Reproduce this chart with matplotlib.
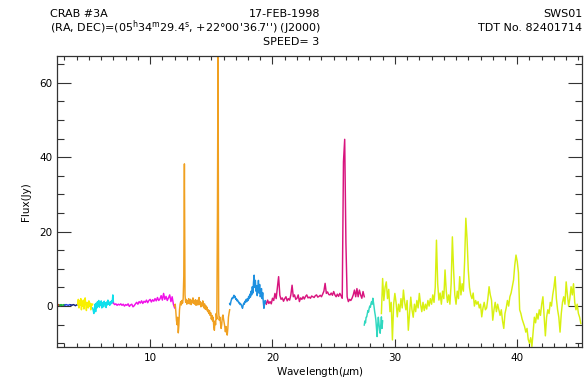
import numpy as np
import matplotlib
matplotlib.use("Agg")
import matplotlib.pyplot as plt
from matplotlib.ticker import MultipleLocator

# SWS01 spectrum of CRAB #3A, one list of flux values (Jy) per band
# wavelength range of each band in micron
band1a_range = (2.38, 2.60)
band1a = [0.3, 0.2, 0.4, 0.3, 0.2]
band1b_range = (2.60, 3.02)
band1b = [0.3, 0.1, 0.4, 0.2, 0.3, 0.2, 0.4, 0.3]
band1d_range = (3.02, 3.52)
band1d = [0.2, 0.4, 0.3, 0.2, 0.4, 0.3]
band1e_range = (3.52, 4.08)
band1e = [0.3, 0.2, 0.4, 0.3, 0.1, 0.3, 0.4]

band2a_range = (4.08, 5.30)
band2a = [0.5, 1.8, -0.5, 1.5, 0.2, 2.0, -1.0, 1.2, 0.0, 1.6, -0.8, 0.8, 2.2,
          0.3, -1.2, 1.0, 0.5, -0.5, 1.4, 0.0, 0.8, -1.0, 0.6, 0.2, 0.5]

band2b_range = (5.30, 7.00)
band2b = [-0.5, -1.2, -2.0, -1.0, 0.5, -1.5, 0.8, -0.5, 1.2, 0.0, 1.5, -0.3,
          0.8, 0.2, 1.4, -0.5, 0.6, 1.0, -0.2, 1.3, 0.4, 0.9, -0.4, 1.1, 0.3,
          1.6, 0.5, 1.0, 0.2, 1.2, 0.6, 1.4, 0.8, 3.0, 1.0]

band2c_range = (7.0, 12.0)
band2c = [0.8, 0.4, 0.6, 0.2, 0.5, 0.3, 0.6, 0.2, 0.5, 0.0,
          0.4, 0.2, 0.6, -0.1, 0.3, 0.5, -0.2, 0.1, 0.6, 1.0,
          0.5, 1.2, 0.8, 1.4, 0.7, 1.3, 1.0, 1.6, 0.9, 1.5,
          1.8, 1.1, 1.7, 1.3, 2.0, 1.4, 2.3, 1.5, 1.9, 2.8,
          1.6, 3.4, 1.8, 2.6, 1.5, 2.2, 3.0, 1.2, 2.5, 0.5, -0.5]

band3a_range = (12.0, 16.5)
band3a = [0.0, 0.5, -1.5, -3.8, -5.0, -3.0, -7.2, -5.0, -1.0, 0.5,
          1.2, 0.3, 1.5, 0.8, 2.0, 8.0, 38.2, 3.0, 1.0, 1.8,
          0.5, 1.5, 0.8, 2.0, 0.6, 1.2, 1.8, 0.4, 1.5, 0.9,
          2.2, 0.7, 1.3, 0.5, 1.7, 0.2, 1.0, 1.6, 0.3, 0.9,
          2.3, 0.4, 1.2, -0.2, 0.8, 0.0, 1.4, 0.2, -0.5, 0.6,
          -0.8, 0.1, -1.0, -0.3, -1.5, -1.0, -2.0, -1.2, -2.5, -1.8,
          -3.5, -2.5, -4.0, -3.0, -5.5, -6.5, -4.0, -5.0, -2.0, -3.5,
          25.0, 70.0, -1.5, -3.8, -3.0, -4.5, -6.0, -5.0, -3.0, -2.4,
          -3.5, -4.5, -5.5, -6.9, -5.5, -7.0, -7.8, -6.0, -3.0, -1.9, -1.0]

band3c_range = (16.5, 19.5)
band3c = [0.7, 0.3, 1.2, 1.8, 2.2, 2.0, 2.5, 2.9, 2.3, 2.6,
          1.8, 2.0, 1.4, 1.6, 1.2, 0.8, 1.0, 0.4, 0.6, 0.3,
          -0.2, -0.6, 0.2, 0.8, 0.5, 1.3, 1.0, 1.8, 1.2, 2.0,
          1.5, 2.6, 2.0, 3.2, 2.4, 4.0, 3.0, 5.2, 3.5, 6.5,
          8.3, 5.0, 6.9, 4.0, 5.5, 2.8, 4.3, 6.9, 3.5, 5.8,
          2.5, 3.4, 4.7, 2.0, 3.6, 1.0, -0.6, 0.5, 1.5, 0.8, 1.0]

band3d_range = (19.5, 27.5)
band3d = [0.5, 1.6, 0.7, 1.2, 0.6, 2.1, 1.5, 3.4, 2.0, 5.0,
          7.9, 2.9, 1.8, 2.2, 1.3, 2.0, 2.5, 1.4, 2.0, 1.6,
          3.0, 5.6, 2.5, 3.0, 1.8, 2.1, 3.0, 1.2, 2.2, 1.8,
          2.5, 1.9, 2.6, 3.0, 2.2, 2.4, 2.1, 2.7, 2.5, 2.3,
          2.8, 3.0, 2.4, 2.6, 2.9, 2.5, 3.2, 4.0, 6.1, 3.4,
          3.8, 3.1, 3.0, 3.5, 2.9, 3.9, 3.0, 2.5, 3.2, 2.6,
          3.4, 2.8, 2.1, 38.8, 44.8, 17.0, 2.5, 1.2, 1.8, 1.5,
          2.1, 3.0, 4.3, 2.5, 4.7, 2.5, 4.3, 3.0, 2.1, 3.9, 2.5]

band3e_range = (27.5, 29.0)
band3e = [-5.1, -4.0, -4.5, -3.0, -2.9, -2.0, -1.2, -1.6, -0.6, 0.0,
          -0.3, 0.7, 1.2, 0.5, 2.1, 1.0, -0.2, -1.5, -2.5, -3.8,
          -6.0, -8.2, -5.0, -3.0, -4.7, -6.5, -7.3, -5.0, -2.9, -6.0, -4.0]

band4_range = (28.9, 45.2)
band4 = [-2.0, 7.4, 1.5, 5.0, 6.5, 2.0, 4.5, -1.5, 1.0, -9.1,
         0.5, 3.4, 1.0, -2.9, 0.5, -1.5, 2.0, -0.5, 4.3, 1.0,
         -1.0, 1.5, -6.5, -2.0, 2.4, -1.0, -3.0, 0.5, -1.5, 1.5,
         -0.5, 3.4, 0.5, -1.5, 1.0, -1.2, 0.5, -0.8, 1.5, 0.0,
         2.0, 0.5, 3.0, 1.0, 5.0, 17.7, 6.0, 1.6, 3.5, 0.5,
         4.0, 2.0, 9.7, 4.0, 1.0, 3.0, 0.5, 6.0, 18.6, 9.7,
         3.0, 0.5, 4.0, 2.0, 7.9, 3.0, 6.0, 4.0, 12.0, 23.6,
         18.0, 9.7, 5.0, 3.0, 2.0, 3.5, 0.0, 1.5, 0.5, 1.2,
         -0.5, 0.5, -2.9, -0.5, 1.0, -1.0, -0.5, 2.0, 5.2, 3.0,
         1.6, -3.8, -1.0, 1.0, -1.5, 0.5, -1.0, -2.5, -1.0, -4.0,
         -6.0, -2.0, -0.5, 1.5, 0.0, 2.5, 3.5, 5.2, 7.0, 11.0,
         13.7, 12.0, 9.0, -1.0, -2.0, -3.5, -4.5, -5.5, -7.0, -6.0,
         -9.0, -10.0, -8.5, -10.9, -7.0, -3.0, -4.5, -2.0, -3.5, -1.0,
         -2.5, 0.5, 2.5, -3.0, -8.0, -3.0, -1.0, -2.0, 1.0, 0.0,
         3.0, 5.0, 7.9, 2.0, -1.0, -3.0, -7.0, -2.0, 1.0, 2.5,
         0.5, 6.5, 3.0, 0.0, 2.0, 5.2, 3.0, 6.0, 1.0, -1.0,
         0.5, -2.0, -3.0, -4.7]

bands = [
    (band1a_range, band1a, "#e02020"),
    (band1b_range, band1b, "#20b040"),
    (band1d_range, band1d, "#2040e0"),
    (band1e_range, band1e, "#102080"),
    (band2a_range, band2a, "#f8f000"),
    (band2b_range, band2b, "#10e0ec"),
    (band2c_range, band2c, "#f010e8"),
    (band3a_range, band3a, "#f0a020"),
    (band3c_range, band3c, "#1e90e0"),
    (band3d_range, band3d, "#d8147e"),
    (band3e_range, band3e, "#30d8c0"),
    (band4_range, band4, "#d8f010"),
]

fig = plt.figure(figsize=(5.86, 3.81), dpi=100)
ax = fig.add_axes([0.0973, 0.0892, 0.896, 0.764])

for (w0, w1), flux, col in bands:
    wl = np.linspace(w0, w1, len(flux))
    ax.plot(wl, flux, color=col, lw=1.05)

ax.set_xlim(2.39, 45.3)
ax.set_ylim(-11.0, 67.2)
ax.xaxis.set_major_locator(MultipleLocator(10))
ax.xaxis.set_minor_locator(MultipleLocator(1))
ax.yaxis.set_major_locator(MultipleLocator(20))
ax.yaxis.set_minor_locator(MultipleLocator(5))
ax.tick_params(which="both", direction="in", top=True, right=True,
               labelsize=7.5, width=0.8, color="#333333")
ax.tick_params(axis="x", which="major", length=6, pad=4)
ax.tick_params(axis="x", which="minor", length=3)
ax.tick_params(axis="y", which="major", length=10, pad=3)
ax.tick_params(axis="y", which="minor", length=5)
for s in ax.spines.values():
    s.set_linewidth(0.9)
    s.set_color("#333333")

ax.set_xlabel("Wavelength($\\mu$m)", fontsize=7.5, labelpad=2)
ax.set_ylabel("Flux(Jy)", fontsize=7.5, labelpad=6)

fs = 8
fig.text(50 / 586, 1 - 14 / 381, "CRAB #3A", fontsize=fs, va="center")
fig.text(50 / 586, 1 - 28 / 381,
         "(RA, DEC)=(05$^{\\mathrm{h}}$34$^{\\mathrm{m}}$29.4$^{\\mathrm{s}}$, "
         "+22\u00b000'36.7'') (J2000)", fontsize=fs, va="center")
fig.text(285 / 586, 1 - 14 / 381, "17-FEB-1998", fontsize=fs, va="center", ha="center")
fig.text(291 / 586, 1 - 42 / 381, "SPEED= 3", fontsize=fs, va="center", ha="center")
fig.text(582 / 586, 1 - 14 / 381, "SWS01", fontsize=fs, va="center", ha="right")
fig.text(582 / 586, 1 - 28 / 381, "TDT No. 82401714", fontsize=fs, va="center", ha="right")

fig.savefig("out.png", dpi=100)
